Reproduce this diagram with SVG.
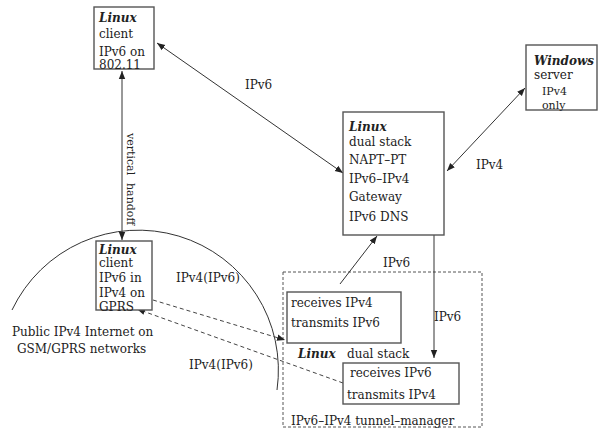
<svg xmlns="http://www.w3.org/2000/svg" width="600" height="428" viewBox="0 0 600 428">
<style>
text{font-family:"DejaVu Serif","Liberation Serif",serif;font-size:12px;fill:#222}
.b{font-weight:bold;font-style:italic}
.box{fill:#fff;stroke:#555;stroke-width:1.4}
.ln{stroke:#333;stroke-width:1;fill:none}
.dl{stroke:#444;stroke-width:1;fill:none;stroke-dasharray:4,3}
.sm{font-size:11px}
</style>
<defs>
<marker id="ah" viewBox="0 0 10 10" refX="10" refY="5" markerWidth="8" markerHeight="8" markerUnits="userSpaceOnUse" orient="auto-start-reverse">
<path d="M0,1 L10,5 L0,9 Z" fill="#222"/>
</marker>
</defs>
<rect width="600" height="428" fill="#fff"/>

<g id="internet">
<path class="ln" d="M12,310 A140,140 0 0 1 277,390" stroke="#444"/>
<text x="12" y="336">Public IPv4 Internet on</text>
<text x="17" y="353">GSM/GPRS networks</text>
</g>

<g id="tunnel-manager">
<rect x="283" y="272" width="199" height="155" fill="none" stroke="#555" stroke-width="1" stroke-dasharray="3,2"/>
<text x="291" y="425">IPv6–IPv4 tunnel–manager</text>
<text x="298" y="358"><tspan class="b">Linux</tspan><tspan x="347">dual stack</tspan></text>
</g>

<g id="connectors">
<line class="ln" x1="157" y1="43" x2="343" y2="173" marker-start="url(#ah)" marker-end="url(#ah)"/>
<line class="ln" x1="447" y1="171" x2="525" y2="88" marker-start="url(#ah)" marker-end="url(#ah)"/>
<line class="ln" x1="122" y1="71" x2="122" y2="240" marker-start="url(#ah)" marker-end="url(#ah)"/>
<line class="ln" x1="340" y1="284" x2="377" y2="236" marker-end="url(#ah)"/>
<line class="ln" x1="434" y1="235" x2="434" y2="358" marker-end="url(#ah)"/>
<line class="dl" x1="153" y1="300" x2="285" y2="340" marker-end="url(#ah)"/>
<line class="dl" x1="343" y1="383" x2="137" y2="309" marker-end="url(#ah)"/>
<text x="245" y="89">IPv6</text>
<text x="476" y="169">IPv4</text>
<text x="383" y="267">IPv6</text>
<text x="434" y="321">IPv6</text>
<text x="176" y="282">IPv4(IPv6)</text>
<text x="189" y="369">IPv4(IPv6)</text>
<text class="sm" transform="translate(127,133) rotate(90)">vertical</text>
<text class="sm" transform="translate(127,183) rotate(90)">handoff</text>
</g>

<g id="client-wifi">
<rect class="box" x="94" y="7" width="60" height="62"/>
<text x="99" y="22" class="b">Linux</text>
<text x="99" y="38">client</text>
<text x="99" y="56">IPv6 on</text>
<text x="99" y="69">802.11</text>
</g>

<g id="gateway">
<rect class="box" x="343" y="112" width="101" height="123"/>
<text x="349" y="131" class="b">Linux</text>
<text x="349" y="146">dual stack</text>
<text x="349" y="164">NAPT–PT</text>
<text x="349" y="183">IPv6–IPv4</text>
<text x="349" y="201">Gateway</text>
<text x="349" y="221">IPv6 DNS</text>
</g>

<g id="windows-server">
<rect class="box" x="526" y="45" width="71" height="65"/>
<text x="534" y="65" class="b">Windows</text>
<text x="534" y="79">server</text>
<text x="542" y="95" class="sm">IPv4</text>
<text x="542" y="109" class="sm">only</text>
</g>

<g id="client-gprs">
<rect class="box" x="96" y="241" width="56" height="69"/>
<text x="99" y="254" class="b">Linux</text>
<text x="99" y="267">client</text>
<text x="99" y="282">IPv6 in</text>
<text x="99" y="297">IPv4 on</text>
<text x="99" y="311">GPRS</text>
</g>

<g id="recv-ipv4">
<rect class="box" x="287" y="292" width="114" height="51"/>
<text x="291" y="307">receives IPv4</text>
<text x="291" y="327">transmits IPv6</text>
</g>

<g id="recv-ipv6">
<rect class="box" x="343" y="363" width="116" height="41"/>
<text x="350" y="377">receives IPv6</text>
<text x="347" y="399">transmits IPv4</text>
</g>
</svg>
